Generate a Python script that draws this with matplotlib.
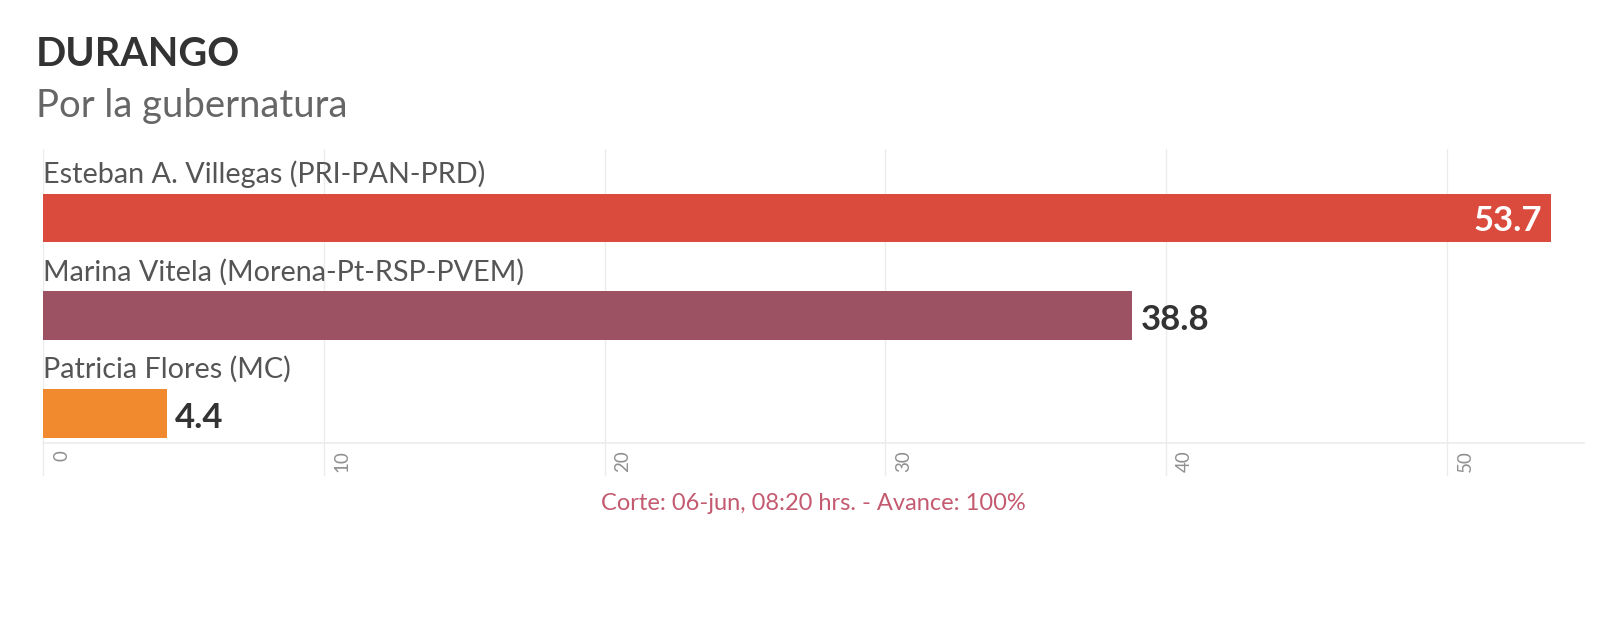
import matplotlib
matplotlib.use("Agg")
import matplotlib.pyplot as plt
from matplotlib.transforms import blended_transform_factory, ScaledTranslation

# data
candidates = ["Esteban A. Villegas (PRI-PAN-PRD)",
              "Marina Vitela (Morena-Pt-RSP-PVEM)",
              "Patricia Flores (MC)"]
votes = [53.7, 38.8, 4.4]
bar_colors = ["#da4b3e", "#9c5262", "#f18a2e"]
ticks = [0, 10, 20, 30, 40, 50]

title = "DURANGO"
subtitle = "Por la gubernatura"
footer = "Corte: 06-jun, 08:20 hrs. - Avance: 100%"

plt.rcParams['font.family'] = ['Lato', 'DejaVu Sans']

fig = plt.figure(figsize=(16.13, 6.2), dpi=100)
ax = fig.add_axes([0.0267, 0.2855, 0.9555, 0.4742])

ypos = list(range(len(candidates)))
ax.barh(ypos, votes, height=0.5, color=bar_colors, zorder=2)

ax.set_xlim(0, 54.9)
ax.set_ylim(2.30, -0.706)

# vertical grid lines
for t in ticks:
    ax.axvline(t, color="#ececec", lw=1, zorder=0)
ax.axhline(2.30, color="#ececec", lw=1.2, zorder=0, clip_on=False)

ax.set_xticks([])
ax.set_yticks([])
for s in ax.spines.values():
    s.set_visible(False)

# tick labels, rotated, to the right of each line
trans = blended_transform_factory(ax.transData, ax.transAxes)
off = ScaledTranslation(10 / 100, -7 / 100, fig.dpi_scale_trans)
for t in ticks:
    ax.plot([t, t], [0, -0.11], transform=trans, color="#ececec", lw=1, clip_on=False)
    ax.text(t, 0, str(t), transform=trans + off, rotation=90, ha="left", va="top",
            fontsize=13.5, color="#8f8f8f")

# candidate names and values
for i, (name, v) in enumerate(zip(candidates, votes)):
    ax.text(0.0, i - 0.45, name, fontsize=20.7, color="#555555", va="center", ha="left")
    if i == 0:
        ax.text(v - 0.3, i + 0.03, f"{v}", fontsize=25, fontweight="bold", color="white",
                va="center", ha="right", zorder=3)
    else:
        ax.text(v + 0.3, i + 0.04, f"{v}", fontsize=25, fontweight="bold", color="#333333",
                va="center", ha="left", zorder=3)

fig.text(36 / 1613, 1 - 55 / 620, title, fontsize=28.5, fontweight="bold",
         color="#333333", va="center", ha="left")
fig.text(36 / 1613, 1 - 106 / 620, subtitle, fontsize=27.5, color="#666666",
         va="center", ha="left")
fig.text(813 / 1613, 1 - 503 / 620, footer, fontsize=17, color="#c45a70",
         va="center", ha="center")

fig.savefig("out.png", dpi=100, facecolor="white")
